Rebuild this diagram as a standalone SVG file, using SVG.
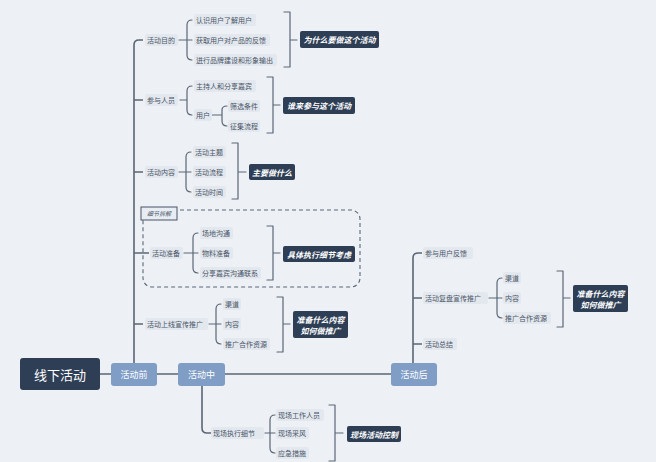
<svg xmlns="http://www.w3.org/2000/svg" width="656" height="462" viewBox="0 0 656 462">
<defs>
<style>
.bg{fill:#edf1f6}
.ln{fill:none;stroke:#5b6676;stroke-width:1.2;stroke-linecap:round;stroke-linejoin:round}
.tr{fill:none;stroke:#5b6676;stroke-width:1.6}
.lb{fill:#e3e8ef}
.t{font-family:"Noto Sans CJK SC","Noto Sans",sans-serif;font-size:7px;fill:#4a5566;dominant-baseline:central}
.sb{fill:#2e3e55}
.st{font-family:"Noto Sans CJK SC","Noto Sans",sans-serif;font-size:8px;font-weight:bold;font-style:italic;fill:#ffffff;text-anchor:middle;dominant-baseline:central}
.root{fill:#2e3e55}
.rt{font-family:"Noto Sans CJK SC","Noto Sans",sans-serif;font-size:13px;fill:#ffffff;text-anchor:middle;dominant-baseline:central}
.ph{fill:#7f9dc5}
.pt{font-family:"Noto Sans CJK SC","Noto Sans",sans-serif;font-size:9px;fill:#ffffff;text-anchor:middle;dominant-baseline:central}
</style>
</defs>
<rect class="bg" x="0" y="0" width="656" height="462"/>

<g id="connectors">
<!-- main line -->
<path class="tr" d="M100,374 H111 M157,374 H178 M225,374 H391"/>
<!-- 活动前 trunk -->
<path class="tr" d="M134,363 V45 Q134,40 139,40 H143 M134,100 H143 M134,172 H143 M134,253 H149 M134,324 H143"/>
<!-- 活动中 -->
<path class="tr" d="M202,386 V428 Q202,433 207,433 H211"/>
<!-- 活动后 trunk -->
<path class="tr" d="M413,363 V258 Q413,253 418,253 H422 M413,298 H422 M413,344 H422"/>

<!-- 活动目的 -->
<path class="ln" d="M179,40 H192 M192,20 Q187,20 187,25 V55 Q187,60 192,60"/>
<path class="ln" d="M284,12 H290 V67 H284 M290,40 H297"/>
<!-- 参与人员 -->
<path class="ln" d="M180,100 H187 M192,86 Q187,86 187,91 V110 Q187,115 192,115"/>
<path class="ln" d="M212,115 H222 M227,106 Q222,106 222,110 V121 Q222,126 227,126"/>
<path class="ln" d="M267,77 H273 V133 H267 M273,105 H280"/>
<!-- 活动内容 -->
<path class="ln" d="M179,172 H191 M191,152 Q186,152 186,157 V187 Q186,192 191,192"/>
<path class="ln" d="M232,143 H238 V199 H232 M238,172 H246"/>
<!-- 活动准备 -->
<path class="ln" d="M184,253 H198 M198,233 Q193,233 193,238 V268 Q193,273 198,273"/>
<path class="ln" d="M267,226 H273 V280 H267 M273,253 H280"/>
<!-- 活动上线宣传推广 -->
<path class="ln" d="M209,324 H221 M221,304 Q216,304 216,309 V339 Q216,344 221,344"/>
<path class="ln" d="M277,297 H283 V352 H277 M283,324 H290"/>
<!-- 现场执行细节 -->
<path class="ln" d="M265,433 H275 M275,415 Q270,415 270,420 V448 Q270,453 275,453"/>
<path class="ln" d="M329,405 H335 V461 H329 M335,433 H343"/>
<!-- 活动复盘宣传推广 -->
<path class="ln" d="M489,298 H502 M502,278 Q497,278 497,283 V313 Q497,318 502,318"/>
<path class="ln" d="M557,271 H563 V327 H557 M563,298 H570"/>
</g>

<!-- dashed group -->
<g id="detail-group">
<rect x="143" y="210" width="217" height="77" rx="9" fill="none" stroke="#5b6676" stroke-width="1.1" stroke-dasharray="4 3"/>
<rect x="141" y="207" width="36" height="13" fill="#e8edf3" stroke="#4a5566" stroke-width="1"/>
<text x="159" y="213.5" style="font-family:'Noto Sans CJK SC','Noto Sans',sans-serif;font-size:6px;font-style:italic;fill:#4a5566;text-anchor:middle;dominant-baseline:central">细节拆解</text>
</g>

<g id="root"><rect class="root" x="20" y="358" width="80" height="32" rx="3"/><text class="rt" x="60" y="374">线下活动</text></g>
<g id="before"><rect class="ph" x="111" y="363" width="46" height="23" rx="3"/><text class="pt" x="134" y="374.5">活动前</text></g>
<g id="during"><rect class="ph" x="178" y="363" width="47" height="23" rx="3"/><text class="pt" x="201.5" y="374.5">活动中</text></g>
<g id="after"><rect class="ph" x="391" y="363" width="46" height="23" rx="3"/><text class="pt" x="414" y="374.5">活动后</text></g>

<!-- level 2 under 活动前 -->
<g id="n-mudi"><rect class="lb" x="145" y="34" width="33" height="12" rx="2"/><text class="t" x="147" y="40">活动目的</text></g>
<g id="n-renyuan"><rect class="lb" x="145" y="94" width="33" height="12" rx="2"/><text class="t" x="147" y="100">参与人员</text></g>
<g id="n-neirong"><rect class="lb" x="145" y="166" width="33" height="12" rx="2"/><text class="t" x="147" y="172">活动内容</text></g>
<g id="n-zhunbei"><rect class="lb" x="150" y="247" width="33" height="12" rx="2"/><text class="t" x="152" y="253">活动准备</text></g>
<g id="n-tuiguang"><rect class="lb" x="145" y="318" width="63" height="12" rx="2"/><text class="t" x="147" y="324">活动上线宣传推广</text></g>

<!-- 活动目的 children -->
<g id="n-m1"><rect class="lb" x="194" y="14" width="62" height="12" rx="2"/><text class="t" x="196" y="20">认识用户了解用户</text></g>
<g id="n-m2"><rect class="lb" x="194" y="34" width="76" height="12" rx="2"/><text class="t" x="196" y="40">获取用户对产品的反馈</text></g>
<g id="n-m3"><rect class="lb" x="194" y="54" width="83" height="12" rx="2"/><text class="t" x="196" y="60">进行品牌建设和形象输出</text></g>
<g id="s-why"><rect class="sb" x="300" y="31" width="79" height="17" rx="2"/><text class="st" x="339.5" y="39.5">为什么要做这个活动</text></g>

<!-- 参与人员 children -->
<g id="n-r1"><rect class="lb" x="194" y="80" width="62" height="12" rx="2"/><text class="t" x="196" y="86">主持人和分享嘉宾</text></g>
<g id="n-r2"><rect class="lb" x="194" y="109" width="18" height="12" rx="2"/><text class="t" x="196" y="115">用户</text></g>
<g id="n-r21"><rect class="lb" x="228" y="100" width="32" height="12" rx="2"/><text class="t" x="230" y="106">筛选条件</text></g>
<g id="n-r22"><rect class="lb" x="228" y="120" width="32" height="12" rx="2"/><text class="t" x="230" y="126">征集流程</text></g>
<g id="s-who"><rect class="sb" x="283" y="97" width="72" height="17" rx="2"/><text class="st" x="319" y="105.5">谁来参与这个活动</text></g>

<!-- 活动内容 children -->
<g id="n-n1"><rect class="lb" x="193" y="146" width="33" height="12" rx="2"/><text class="t" x="195" y="152">活动主题</text></g>
<g id="n-n2"><rect class="lb" x="193" y="166" width="33" height="12" rx="2"/><text class="t" x="195" y="172">活动流程</text></g>
<g id="n-n3"><rect class="lb" x="193" y="186" width="33" height="12" rx="2"/><text class="t" x="195" y="192">活动时间</text></g>
<g id="s-what"><rect class="sb" x="249" y="164" width="46" height="16" rx="2"/><text class="st" x="272" y="172">主要做什么</text></g>

<!-- 活动准备 children -->
<g id="n-z1"><rect class="lb" x="200" y="227" width="33" height="12" rx="2"/><text class="t" x="202" y="233">场地沟通</text></g>
<g id="n-z2"><rect class="lb" x="200" y="247" width="33" height="12" rx="2"/><text class="t" x="202" y="253">物料准备</text></g>
<g id="n-z3"><rect class="lb" x="200" y="267" width="61" height="12" rx="2"/><text class="t" x="202" y="273">分享嘉宾沟通联系</text></g>
<g id="s-detail"><rect class="sb" x="283" y="246" width="72" height="16" rx="2"/><text class="st" x="319" y="254">具体执行细节考虑</text></g>

<!-- 活动上线宣传推广 children -->
<g id="n-t1"><rect class="lb" x="223" y="298" width="18" height="12" rx="2"/><text class="t" x="225" y="304">渠道</text></g>
<g id="n-t2"><rect class="lb" x="223" y="318" width="18" height="12" rx="2"/><text class="t" x="225" y="324">内容</text></g>
<g id="n-t3"><rect class="lb" x="223" y="338" width="47" height="12" rx="2"/><text class="t" x="225" y="344">推广合作资源</text></g>
<g id="s-promo1"><rect class="sb" x="293" y="311" width="55" height="27" rx="2"/><text class="st" x="320.5" y="319">准备什么内容</text><text class="st" x="320.5" y="330">如何做推广</text></g>

<!-- 活动中 children -->
<g id="n-zx"><rect class="lb" x="211" y="427" width="53" height="12" rx="2"/><text class="t" x="213" y="433">现场执行细节</text></g>
<g id="n-zx1"><rect class="lb" x="276" y="409" width="48" height="12" rx="2"/><text class="t" x="278" y="415">现场工作人员</text></g>
<g id="n-zx2"><rect class="lb" x="276" y="427" width="33" height="12" rx="2"/><text class="t" x="278" y="433">现场采风</text></g>
<g id="n-zx3"><rect class="lb" x="276" y="447" width="33" height="12" rx="2"/><text class="t" x="278" y="453">应急措施</text></g>
<g id="s-ctrl"><rect class="sb" x="347" y="426" width="54" height="16" rx="2"/><text class="st" x="374" y="434">现场活动控制</text></g>

<!-- 活动后 children -->
<g id="n-h1"><rect class="lb" x="423" y="247" width="50" height="12" rx="2"/><text class="t" x="425" y="253">参与用户反馈</text></g>
<g id="n-h2"><rect class="lb" x="423" y="292" width="65" height="12" rx="2"/><text class="t" x="425" y="298">活动复盘宣传推广</text></g>
<g id="n-h3"><rect class="lb" x="423" y="338" width="34" height="12" rx="2"/><text class="t" x="425" y="344">活动总结</text></g>
<g id="n-h21"><rect class="lb" x="503" y="272" width="18" height="12" rx="2"/><text class="t" x="505" y="278">渠道</text></g>
<g id="n-h22"><rect class="lb" x="503" y="292" width="18" height="12" rx="2"/><text class="t" x="505" y="298">内容</text></g>
<g id="n-h23"><rect class="lb" x="503" y="312" width="48" height="12" rx="2"/><text class="t" x="505" y="318">推广合作资源</text></g>
<g id="s-promo2"><rect class="sb" x="573" y="285" width="55" height="27" rx="2"/><text class="st" x="600.5" y="293">准备什么内容</text><text class="st" x="600.5" y="304">如何做推广</text></g>
</svg>
